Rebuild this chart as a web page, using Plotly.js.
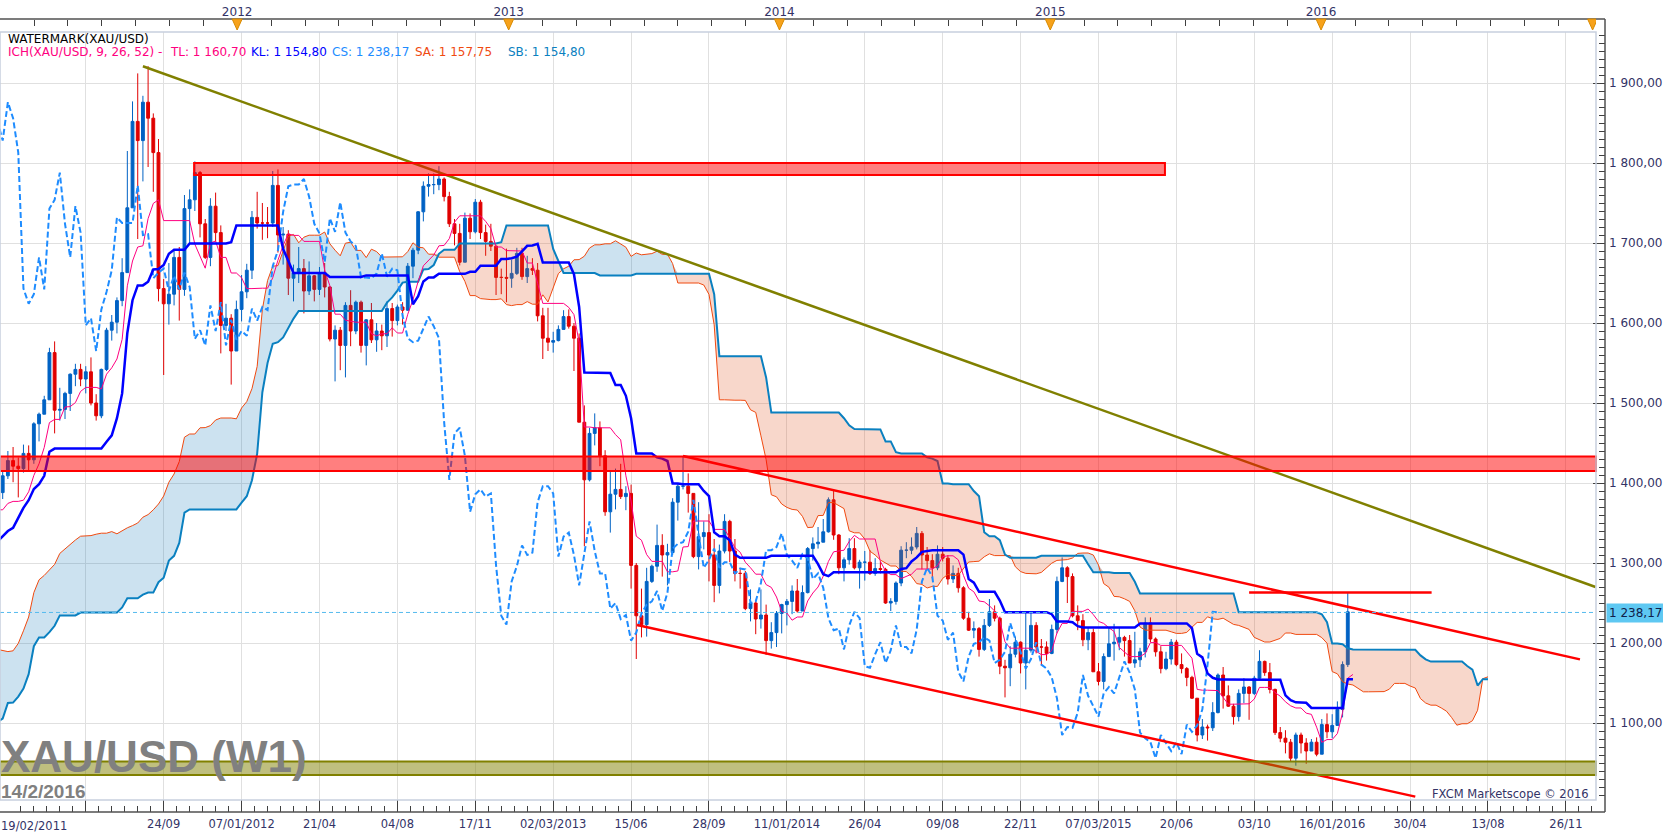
<!DOCTYPE html>
<html>
<head>
<meta charset="utf-8">
<script src="https://cdn.plot.ly/plotly-3.0.1.min.js"></script>
<style>html,body{margin:0;padding:0;background:#fff}#chart{width:1663px;height:838px}</style>
</head>
<body>
<div id="chart"></div>
<script>
// ---------- DATA (weekly XAU/USD, bars labelled by the Saturday before the trading week) ----------
// first bar label (history before 19/02/2011 is only needed for the Ichimoku 9/26/52 calculation)
const firstBarDate = [2009, 7, 22];   // 2009-08-22

const opens = [
942,955,996,1006,1009,992,1003,1049,1051,1056,
1045,1095,1117,1146,1175,1163,1122,1111,1104,1096,
1137,1130,1090,1081,1064,1092,1117,1118,1133,1102,
1106,1104,1125,1162,1137,1141,1179,1208,1228,1176,
1212,1218,1228,1256,1255,1208,1210,1190,1189,1181,
1204,1216,1228,1237,1249,1246,1276,1297,1319,1346,
1368,1325,1358,1393,1367,1353,1363,1406,1385,1378,
1380,1421,1369,1360,1342,1341,1350,1361,
1388,1409,1428,1421,1418,1437,1429,1474,1486,1504,
1563,1491,1492,1512,1536,1542,1530,1539,1500,1484,
1542,1591,1601,1628,1663,1744,1852,1828,1876,1856,
1813,1643,1624,1636,1682,1642,1743,1754,1788,1724,
1682,1746,1713,1597,1606,1565,1617,1639,1666,1732,
1725,1725,1725,1772,1710,1711,1656,1663,1668,1640,
1659,1642,1663,1645,1580,1591,1572,1622,1590,1626,
1572,1604,1579,1590,1584,1618,1603,1620,1616,1671,
1691,1739,1771,1773,1773,1780,1758,1724,1712,1676,
1731,1714,1751,1713,1702,1696,1657,1657,1656,1662,
1687,1658,1668,1666,1609,1581,1576,1578,1592,1608,
1596,1581,1476,1404,1462,1469,1434,1364,1386,1392,
1383,1387,1297,1234,1223,1277,1296,1322,1310,1313,
1376,1396,1396,1387,1308,1333,1338,1310,1272,1315,
1352,1315,1287,1287,1243,1250,1230,1235,1203,1213,
1237,1248,1252,1265,1240,1263,1318,1324,1326,1339,
1379,1335,1294,1304,1318,1294,1301,1301,1287,1293,
1292,1250,1252,1275,1316,1316,1320,1337,1310,1303,
1294,1311,1306,1280,1287,1269,1231,1216,1218,1192,
1222,1239,1231,1171,1169,1186,1201,1175,1191,1222,
1195,1195,1187,1217,1277,1294,1283,1234,1228,1204,
1213,1164,1152,1183,1199,1201,1207,1203,1175,1179,
1189,1225,1205,1189,1168,1180,1201,1173,1168,1157,
1131,1085,1095,1094,1113,1160,1134,1121,1108,1137,
1145,1137,1156,1177,1163,1142,1088,1081,1076,1056,
1085,1075,1065,1076,1061,1098,1089,1097,1117,1173,1238.17
];
const highs = [
960,1000,1010,1024,1019,1010,1062,1070,1071,1060,
1101,1120,1152,1195,1226,1165,1141,1111,1105,1140,
1162,1140,1108,1120,1094,1124,1118,1140,1134,1127,
1110,1128,1164,1163,1148,1180,1210,1249,1230,1215,
1222,1250,1262,1265,1261,1212,1215,1204,1190,1208,
1221,1236,1241,1254,1258,1280,1300,1320,1365,1387,
1371,1360,1398,1424,1379,1381,1410,1431,1392,1390,
1424,1424,1390,1373,1347,1358,1366,1390,
1415,1440,1445,1432,1448,1447,1476,1488,1509,1569,
1577,1519,1514,1537,1549,1549,1546,1557,1511,1543,
1594,1610,1632,1681,1815,1877,1912,1884,1921,1862,
1830,1655,1675,1690,1695,1760,1767,1802,1790,1730,
1756,1763,1722,1624,1611,1628,1660,1674,1740,1764,
1750,1745,1790,1792,1720,1716,1673,1695,1680,1677,
1660,1670,1675,1646,1597,1595,1626,1641,1628,1628,
1605,1625,1600,1598,1627,1625,1623,1626,1675,1694,
1740,1777,1787,1787,1796,1782,1764,1730,1724,1738,
1737,1755,1754,1723,1724,1697,1668,1693,1679,1694,
1694,1684,1681,1675,1619,1619,1589,1597,1616,1617,
1600,1587,1497,1469,1487,1477,1441,1416,1418,1424,
1396,1398,1300,1268,1294,1298,1348,1336,1324,1381,
1400,1433,1412,1387,1376,1352,1361,1330,1323,1361,
1354,1330,1294,1290,1267,1254,1267,1248,1226,1240,
1249,1255,1272,1280,1272,1320,1332,1345,1355,1382,
1392,1336,1307,1331,1331,1304,1315,1316,1306,1302,
1294,1256,1277,1321,1326,1332,1345,1340,1320,1311,
1322,1320,1310,1297,1294,1271,1239,1227,1220,1230,
1255,1247,1233,1179,1196,1208,1202,1238,1239,1226,
1205,1202,1223,1283,1307,1296,1287,1247,1236,1220,
1218,1175,1187,1220,1224,1219,1209,1210,1214,1194,
1232,1232,1207,1196,1189,1205,1204,1187,1170,1159,
1131,1105,1098,1126,1162,1170,1147,1124,1142,1156,
1146,1159,1191,1178,1175,1143,1095,1091,1080,1088,
1088,1081,1080,1082,1105,1112,1111,1127,1177,1263,1238.17
];
const lows = [
938,946,985,1002,986,986,1002,1043,1040,1027,
1040,1092,1110,1137,1160,1105,1097,1082,1086,1094,
1125,1086,1074,1045,1058,1092,1093,1108,1100,1085,
1081,1104,1115,1132,1130,1141,1165,1200,1159,1174,
1195,1215,1221,1225,1199,1189,1182,1176,1157,1175,
1192,1212,1223,1236,1240,1243,1267,1290,1310,1340,
1315,1318,1325,1357,1330,1340,1359,1380,1361,1369,
1376,1366,1360,1338,1309,1330,1343,1360,
1380,1405,1401,1382,1413,1414,1424,1452,1486,1504,
1462,1478,1480,1490,1521,1521,1512,1497,1478,1481,
1540,1578,1587,1621,1663,1744,1705,1777,1795,1764,
1627,1535,1598,1622,1603,1634,1700,1740,1707,1680,
1671,1702,1562,1590,1523,1565,1602,1631,1655,1718,
1704,1706,1720,1688,1673,1635,1627,1650,1612,1635,
1627,1635,1632,1577,1527,1541,1532,1571,1586,1563,
1547,1575,1564,1566,1570,1583,1597,1598,1615,1656,
1686,1727,1758,1761,1766,1752,1720,1697,1672,1676,
1705,1712,1705,1684,1690,1635,1636,1626,1644,1660,
1654,1650,1660,1602,1555,1565,1563,1577,1592,1593,
1540,1476,1321,1402,1447,1421,1359,1338,1367,1380,
1366,1268,1180,1207,1208,1275,1289,1283,1272,1310,
1353,1392,1363,1306,1292,1317,1277,1251,1262,1312,
1301,1277,1268,1241,1227,1211,1218,1185,1193,1195,
1212,1222,1236,1238,1240,1262,1303,1318,1326,1338,
1329,1286,1277,1298,1292,1268,1278,1285,1284,1287,
1249,1240,1248,1271,1306,1311,1317,1292,1291,1281,
1291,1302,1273,1275,1263,1229,1215,1206,1183,1190,
1220,1227,1161,1132,1146,1182,1162,1142,1188,1187,
1172,1178,1186,1212,1276,1250,1232,1216,1196,1191,
1164,1147,1142,1183,1178,1191,1183,1175,1169,1170,
1182,1201,1183,1162,1166,1173,1171,1162,1146,1130,
1077,1080,1078,1090,1112,1118,1120,1098,1102,1125,
1104,1135,1155,1159,1137,1085,1076,1062,1052,1046.6,
1062,1049,1065,1058.4,1061,1081,1081,1097,1107,1170,1238.17
];
const closes = [
955,996,1006,1009,992,1003,1049,1051,1056,1045,
1095,1117,1146,1175,1163,1122,1111,1104,1096,1137,
1130,1090,1081,1064,1092,1117,1118,1133,1102,1106,
1104,1125,1162,1137,1141,1179,1208,1228,1176,1212,
1218,1228,1256,1255,1208,1210,1190,1189,1181,1204,
1216,1228,1237,1249,1246,1276,1297,1319,1346,1368,
1325,1358,1393,1367,1353,1363,1406,1385,1378,1380,
1421,1369,1360,1342,1341,1350,1361,1388,
1409,1428,1421,1418,1437,1429,1474,1486,1504,1563,
1491,1492,1512,1536,1542,1530,1539,1500,1484,1542,
1591,1601,1628,1663,1744,1852,1828,1876,1856,1813,
1643,1624,1636,1682,1642,1743,1754,1788,1724,1682,
1746,1713,1597,1606,1565,1617,1639,1666,1732,1725,
1725,1725,1772,1710,1711,1656,1663,1668,1640,1659,
1642,1663,1645,1580,1591,1572,1622,1590,1626,1572,
1604,1579,1590,1584,1618,1603,1620,1616,1671,1691,
1739,1771,1773,1773,1780,1758,1724,1712,1676,1731,
1714,1751,1713,1702,1696,1657,1657,1656,1662,1687,
1658,1668,1666,1609,1581,1576,1578,1592,1608,1596,
1581,1476,1404,1462,1469,1434,1364,1386,1392,1383,
1387,1297,1234,1223,1277,1296,1322,1310,1313,1376,
1396,1396,1387,1308,1333,1338,1310,1272,1315,1352,
1315,1287,1287,1243,1250,1230,1235,1203,1213,1237,
1248,1252,1265,1240,1263,1318,1324,1326,1339,1379,
1335,1294,1304,1318,1294,1301,1301,1287,1293,1292,
1250,1252,1275,1316,1316,1320,1337,1310,1303,1294,
1311,1306,1280,1287,1269,1231,1216,1218,1192,1222,
1239,1231,1171,1169,1186,1201,1175,1191,1222,1195,
1195,1187,1217,1277,1294,1283,1234,1228,1204,1213,
1164,1152,1183,1199,1201,1207,1203,1175,1179,1189,
1225,1205,1189,1168,1180,1201,1173,1168,1157,1131,
1085,1095,1094,1113,1160,1134,1121,1108,1137,1145,
1137,1156,1177,1163,1142,1088,1081,1076,1056,1085,
1075,1065,1076,1061,1098,1089,1097,1117,1173,1239,1238.17
];

// Ichimoku parameters
const ichiParams = [9, 26, 52];

// drawn objects (dates / prices)
const trendOliveX = ['2011-08-27', '2017-01-05'];
const trendOliveY = [1921, 1270];
const channelUpX  = ['2013-08-24', '2016-12-15'];
const channelUpY  = [1433.75, 1179.5];
const channelLowX = ['2013-06-23', '2016-05-07'];
const channelLowY = [1222.5, 1008];
const resistX     = ['2015-09-26', '2016-05-29'];
const resistY     = [1263, 1263];
const zoneTopX    = ['2011-11-04', '2015-06-04 14:00'];
const zoneTopY    = [1785, 1800];
const zoneMidY    = [1415, 1433];
const zoneLowY    = [1035, 1052];

// axes
const xRange = ['2011-02-15 09:00', '2017-01-05 14:00'];
const yRange = [1003.75, 1963.75];
const yTickVals = [1100, 1200, 1300, 1400, 1500, 1600, 1700, 1800, 1900];
const xTickDates = ['2011-06-11','2011-09-24','2012-01-07','2012-04-21','2012-08-04','2012-11-17',
  '2013-03-02','2013-06-15','2013-09-28','2014-01-11','2014-04-26','2014-08-09','2014-11-22',
  '2015-03-07','2015-06-20','2015-10-03','2016-01-16','2016-04-30','2016-08-13','2016-11-26'];
const xTickLabels = ['','24/09','07/01/2012','21/04','04/08','17/11','02/03/2013','15/06','28/09',
  '11/01/2014','26/04','09/08','22/11','07/03/2015','20/06','03/10','16/01/2016','30/04','13/08','26/11'];
const yearMarks = ['2012-01-01','2013-01-01','2014-01-01','2015-01-01','2016-01-01','2017-01-01'];
const yearLabels = ['2012','2013','2014','2015','2016',''];
const firstLabel = '19/02/2011';

// ---------- helpers ----------
const DAY = 864e5;
const t0 = Date.UTC(firstBarDate[0], firstBarDate[1], firstBarDate[2]);
const iso = ms => new Date(ms).toISOString().slice(0,19).replace('T',' ');
const barDate = k => iso(t0 + k*7*DAY).slice(0,10);
const N = closes.length;
const dates = Array.from({length:N}, (_,k) => barDate(k));
const fmt = v => { const [a,b] = v.toFixed(2).split('.'); return a.replace(/\B(?=(\d{3})+(?!\d))/g,' ') + ',' + b; };

function midpoint(t, n){
  if (t < n-1) return null;
  let hh = -Infinity, ll = Infinity;
  for (let j = t-n+1; j <= t; j++){ hh = Math.max(hh, highs[j]); ll = Math.min(ll, lows[j]); }
  return (hh+ll)/2;
}
const [P1, P2, P3] = ichiParams;
const SHIFT = P2;
const tenkan = dates.map((_,t) => midpoint(t, P1));
const kijun  = dates.map((_,t) => midpoint(t, P2));
const spanA  = dates.map((_,t) => (tenkan[t]==null || kijun[t]==null) ? null : (tenkan[t]+kijun[t])/2);
const spanB  = dates.map((_,t) => midpoint(t, P3));

const cloudX = [], saY = [], sbY = [];
for (let t = P3-1; t < N; t++){ cloudX.push(barDate(t+SHIFT)); saY.push(spanA[t]); sbY.push(spanB[t]); }
const topY = saY.map((a,k) => Math.max(a, sbY[k]));
const chX = [], chY = [];
for (let t = SHIFT; t < N; t++){ chX.push(dates[t-SHIFT]); chY.push(closes[t]); }

const last = N-1;
const lastClose = closes[last];

// top axis ticks: 8 per year
const topTicks = [], topText = [];
for (let Y = 2011; Y <= 2017; Y++){
  const s = Date.UTC(Y,0,1), e = Date.UTC(Y+1,0,1);
  for (let k = 0; k < 8; k++){
    topTicks.push(iso(s + (e-s)*k/8));
    const yi = yearMarks.indexOf(Y + '-01-01');
    topText.push(k===0 && yi>=0 ? yearLabels[yi] : '');
  }
}
// bottom minor ticks: 6 per major interval
const minorTicks = [];
const m0 = Date.parse(xTickDates[0] + 'T00:00:00Z');
for (let k = -8; k < 6*21; k++){ if (k % 6 !== 0) minorTicks.push(iso(m0 + k*17.5*DAY)); }

// ---------- geometry (paper coords) ----------
const W = 1663, H = 838;
const px = x => x/W, py = y => 1 - y/H;
const xDom = [0, px(1596)];
const yDom = [py(800), py(32)];

const FONT = 'DejaVu Sans';
const AXC = '#333366';

const traces = [
  {type:'candlestick', x:dates, open:opens, high:highs, low:lows, close:closes,
   increasing:{line:{color:'#0062c4', width:1}, fillcolor:'#0062c4'},
   decreasing:{line:{color:'#e00000', width:1}, fillcolor:'#e00000'},
   whiskerwidth:0, hoverinfo:'skip', showlegend:false},
  {type:'scatter', mode:'lines', x:cloudX, y:sbY, line:{width:0, color:'rgba(0,0,0,0)'}, hoverinfo:'skip', showlegend:false},
  {type:'scatter', mode:'lines', x:cloudX, y:topY, line:{width:0, color:'rgba(0,0,0,0)'}, fill:'tonexty', fillcolor:'rgba(0,112,180,0.2)', hoverinfo:'skip', showlegend:false},
  {type:'scatter', mode:'lines', x:cloudX, y:saY, line:{width:0, color:'rgba(0,0,0,0)'}, hoverinfo:'skip', showlegend:false},
  {type:'scatter', mode:'lines', x:cloudX, y:topY, line:{width:0, color:'rgba(0,0,0,0)'}, fill:'tonexty', fillcolor:'rgba(225,80,30,0.23)', hoverinfo:'skip', showlegend:false},
  {type:'scatter', mode:'lines', x:cloudX, y:saY, line:{color:'#f04a10', width:1}, hoverinfo:'skip', showlegend:false},
  {type:'scatter', mode:'lines', x:cloudX, y:sbY, line:{color:'#0a80c0', width:2}, hoverinfo:'skip', showlegend:false},
  {type:'scatter', mode:'lines', x:dates, y:tenkan, line:{color:'#ff0080', width:1}, hoverinfo:'skip', showlegend:false},
  {type:'scatter', mode:'lines', x:chX, y:chY, line:{color:'#1e8cff', width:2, dash:'6px,3px'}, hoverinfo:'skip', showlegend:false},
  {type:'scatter', mode:'lines', x:dates, y:kijun, line:{color:'#0000ff', width:2.5}, hoverinfo:'skip', showlegend:false},
  {type:'scatter', mode:'lines', x:trendOliveX, y:trendOliveY, line:{color:'#808000', width:2.5}, hoverinfo:'skip', showlegend:false},
  {type:'scatter', mode:'lines', x:channelUpX, y:channelUpY, line:{color:'#ff0000', width:2.5}, hoverinfo:'skip', showlegend:false},
  {type:'scatter', mode:'lines', x:channelLowX, y:channelLowY, line:{color:'#ff0000', width:2.5}, hoverinfo:'skip', showlegend:false},
  {type:'scatter', mode:'lines', x:resistX, y:resistY, line:{color:'#ff0000', width:2.5}, hoverinfo:'skip', showlegend:false},
  // keeps the top date axis active
  {type:'scatter', mode:'lines', xaxis:'x2', yaxis:'y', x:xRange, y:[null, null], hoverinfo:'skip', showlegend:false}
];

const shapes = [
  // zones
  {type:'rect', xref:'x', yref:'y', x0:zoneTopX[0], x1:zoneTopX[1], y0:zoneTopY[0], y1:zoneTopY[1],
   fillcolor:'rgba(255,0,0,0.5)', line:{color:'#ff0000', width:2}},
  {type:'rect', xref:'paper', yref:'y', x0:xDom[0], x1:xDom[1], y0:zoneMidY[0], y1:zoneMidY[1],
   fillcolor:'rgba(255,0,0,0.5)', line:{color:'#ff0000', width:2}},
  {type:'rect', xref:'paper', yref:'y', x0:xDom[0], x1:xDom[1], y0:zoneLowY[0], y1:zoneLowY[1],
   fillcolor:'rgba(128,128,0,0.5)', line:{color:'#808000', width:2}},
  // current price line
  {type:'line', xref:'paper', yref:'y', x0:xDom[0], x1:xDom[1], y0:lastClose, y1:lastClose,
   line:{color:'#55bbee', width:1, dash:'4px,3px'}},
  // plot frame
  {type:'rect', xref:'paper', yref:'paper', x0:xDom[0], x1:xDom[1], y0:yDom[0], y1:yDom[1],
   line:{color:'#c8d0de', width:1.5}},
  // outer axis lines
  {type:'line', xref:'paper', yref:'paper', x0:0, x1:px(1605), y0:py(812), y1:py(812), line:{color:'#505050', width:1.5}},
  {type:'line', xref:'paper', yref:'paper', x0:px(1605), x1:px(1605), y0:py(812), y1:py(19), line:{color:'#505050', width:1.5}},
  {type:'line', xref:'paper', yref:'paper', x0:0, x1:px(1605), y0:py(19), y1:py(19), line:{color:'#505050', width:1.5}}
];
// year markers (orange down-pointing triangles hanging from the top axis line)
yearMarks.forEach(d => shapes.push({
  type:'path', xref:'x', yref:'paper', xsizemode:'pixel', ysizemode:'pixel',
  xanchor:d, yanchor:py(19), path:'M-5,0 L5,0 L0,-11 Z',
  fillcolor:'#f7a21b', line:{color:'#d88a00', width:1}
}));

const ann = (text, x, y, color, size, extra) => Object.assign({
  text, xref:'paper', yref:'paper', x:px(x), y:py(y), xanchor:'left', yanchor:'middle',
  showarrow:false, font:{family:FONT, size:size||12, color:color||'#000'}, borderpad:0
}, extra||{});

const annotations = [
  ann('WATERMARK(XAU/USD)', 7, 39, '#000000'),
  ann('ICH(XAU/USD, ' + ichiParams.join(', ') + ') -', 7, 52, '#ff0080'),
  ann('TL: ' + fmt(tenkan[last]), 169, 52, '#ff0080'),
  ann('KL: ' + fmt(kijun[last]), 250, 52, '#0000ff'),
  ann('CS: ' + fmt(lastClose), 331, 52, '#1e8cff'),
  ann('SA: ' + fmt(spanA[last]), 414, 52, '#f04a10'),
  ann('SB: ' + fmt(spanB[last]), 507, 52, '#0a80c0'),
  ann('<b>XAU/USD (W1)</b>', 0, 756, '#808080', 44, {font:{family:'Liberation Sans', size:44, color:'#808080'}}),
  ann('<b>14/2/2016</b>', 0, 791, '#808080', 19, {font:{family:'Liberation Sans', size:19, color:'#808080'}}),
  ann('FXCM Marketscope © 2016', 1590, 794, AXC, 11.5, {xanchor:'right'}),
  ann(firstLabel, 0, 826, AXC, 11.5),
  ann(fmt(lastClose), 1606, 612.5, '#10204a', 12, {bgcolor:'#5ec8f2', width:56, align:'left', borderpad:2})
];

const layout = {
  width: W, height: H,
  margin: {l:0, r:0, t:0, b:0, pad:0},
  paper_bgcolor:'#ffffff', plot_bgcolor:'#ffffff',
  showlegend:false, hovermode:false, boxgap:0.22,
  font:{family:FONT, size:11, color:AXC},
  xaxis: {
    type:'date', domain:xDom, anchor:'free', position:py(812), range:xRange,
    rangeslider:{visible:false}, fixedrange:true,
    tickmode:'array', tickvals:xTickDates, ticktext:xTickLabels,
    ticks:'inside', ticklen:12, tickwidth:1, tickcolor:'#404040',
    minor:{tickmode:'array', tickvals:minorTicks, ticks:'inside', ticklen:6, tickwidth:1, tickcolor:'#404040', showgrid:false},
    showgrid:true, gridcolor:'#e0e0e0', gridwidth:1, zeroline:false, showline:false,
    tickfont:{family:FONT, size:11.5, color:AXC}, ticklabelstandoff:3
  },
  xaxis2: {
    type:'date', overlaying:'x', side:'top', anchor:'free', position:py(19), range:xRange, fixedrange:true,
    tickmode:'array', tickvals:topTicks, ticktext:topText,
    ticks:'inside', ticklen:6, tickwidth:1, tickcolor:'#404040',
    showgrid:false, zeroline:false, showline:false,
    tickfont:{family:FONT, size:12, color:AXC}, ticklabelstandoff:1
  },
  yaxis: {
    domain:yDom, range:yRange, side:'right', anchor:'free', position:px(1605), fixedrange:true,
    tickmode:'array', tickvals:yTickVals, ticktext:yTickVals.map(fmt),
    ticks:'inside', ticklen:12, tickwidth:1, tickcolor:'#404040',
    minor:{dtick:10, tick0:0, ticks:'inside', ticklen:6, tickwidth:1, tickcolor:'#404040', showgrid:false},
    showgrid:true, gridcolor:'#e0e0e0', gridwidth:1, zeroline:false, showline:false,
    tickfont:{family:FONT, size:12, color:AXC}, ticklabelstandoff:3
  },
  shapes, annotations
};

Plotly.newPlot('chart', traces, layout, {staticPlot:true, displayModeBar:false});
</script>
</body>
</html>
